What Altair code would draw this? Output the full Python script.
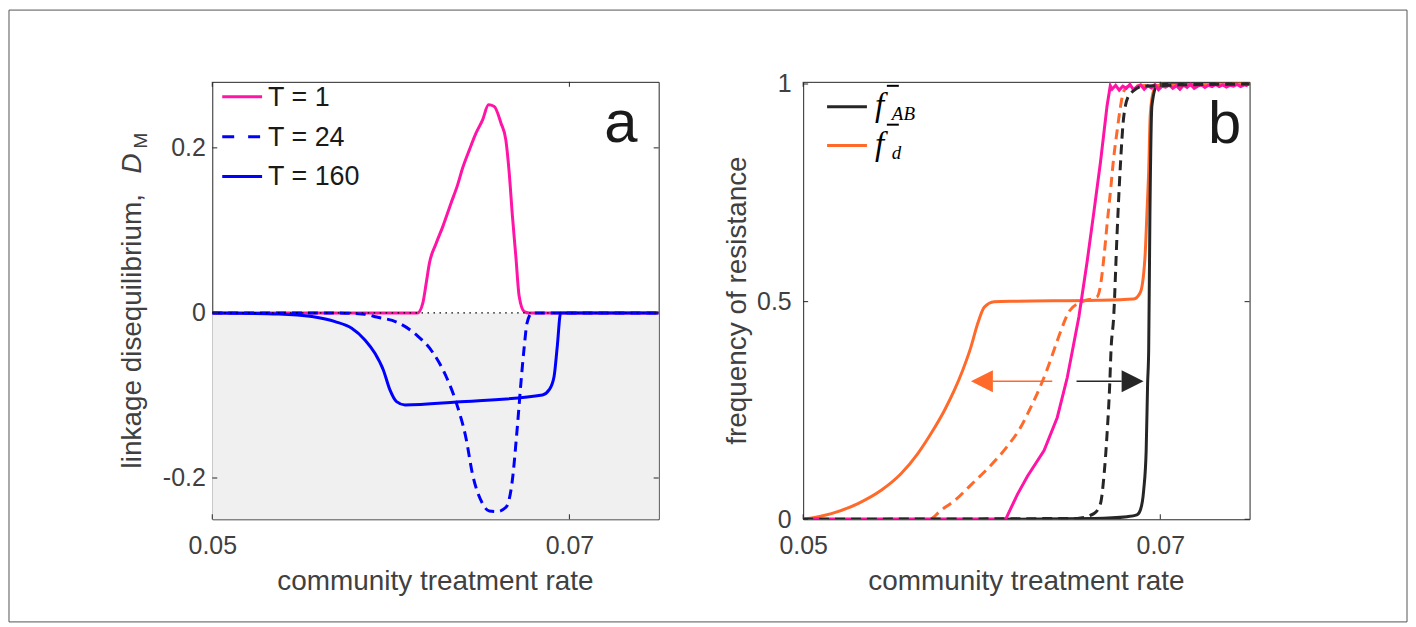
import altair as alt
import pandas as pd

# ------------------------------------------------------------------ data
x_domain = [0.05, 0.075]
x_ticks = [0.05, 0.07]
a_y_domain = [-0.25, 0.28]
a_y_ticks = [-0.2, 0, 0.2]
b_y_domain = [0, 1.005]
b_y_ticks = [0, 0.5, 1]

# panel a : linkage disequilibrium
a_t1_x = [0.05, 0.0615, 0.06179, 0.06198, 0.06216, 0.06254, 0.06291, 0.06337, 0.06374,
          0.06402, 0.0644, 0.06477, 0.06514, 0.06547, 0.06579, 0.06617, 0.06644, 0.06663,
          0.06681, 0.067, 0.06719, 0.06747, 0.06774, 0.075]
a_t1_y = [0, 0, 0.0118, 0.036, 0.0602, 0.0844, 0.1046, 0.133, 0.1552, 0.1755, 0.1976,
          0.2178, 0.2339, 0.2521, 0.2501, 0.2299, 0.2097, 0.1697, 0.1172, 0.0687, 0.0198,
          0.0016, 0, 0]
a_t24_x = [0.05, 0.05658, 0.05854, 0.05921, 0.06032, 0.06144, 0.06233, 0.06311, 0.06367,
           0.06423, 0.06456, 0.06512, 0.06551, 0.06596, 0.06646, 0.0668, 0.06707, 0.0673,
           0.06747, 0.06763, 0.06791, 0.075]
a_t24_y = [0, 0, -0.0015, -0.005, -0.011, -0.0267, -0.0473, -0.0776, -0.1091, -0.1539,
           -0.1939, -0.2303, -0.24, -0.2406, -0.2352, -0.2036, -0.1418, -0.0812, -0.0412,
           -0.0121, 0, 0]
a_t160_x = [0.05, 0.05372, 0.05558, 0.05688, 0.05781, 0.05855, 0.05911, 0.05958, 0.05995,
            0.06032, 0.06079, 0.06367, 0.06849, 0.06886, 0.06914, 0.06932, 0.06951, 0.075]
a_t160_y = [0, -0.0012, -0.0044, -0.0105, -0.0186, -0.0327, -0.0489, -0.0691, -0.0933,
            -0.1075, -0.1115, -0.1079, -0.0994, -0.0933, -0.0772, -0.0408, 0, 0]
a_shade_x = [0.05, 0.075]
a_shade_y = [-0.25, 0]

# panel b : frequency of resistance
b_d160_x = [0.05, 0.05158, 0.05307, 0.05437, 0.05549, 0.05642, 0.05716, 0.05791, 0.05846,
            0.05893, 0.05939, 0.05977, 0.06014, 0.0607, 0.062, 0.06646, 0.06851, 0.06888,
            0.06914, 0.06925, 0.06935, 0.06944, 0.06963, 0.0698, 0.075]
b_d160_y = [0, 0.013, 0.036, 0.0665, 0.105, 0.151, 0.197, 0.25, 0.296, 0.342, 0.395, 0.449,
            0.487, 0.5, 0.501, 0.503, 0.506, 0.521, 0.6, 0.7, 0.8, 0.93, 0.985, 0.995, 1.0]
b_ab160_x = [0.05, 0.061, 0.06629, 0.06814, 0.06869, 0.06888, 0.06907, 0.06921, 0.06929,
             0.06935, 0.06942, 0.06953, 0.06981, 0.07037, 0.075]
b_ab160_y = [0, 0, 0.002, 0.006, 0.01, 0.0206, 0.0665, 0.1583, 0.3119, 0.3876, 0.7, 0.95,
             0.995, 1.0, 1.0]
b_d24_x = [0.05, 0.05707, 0.0577, 0.05848, 0.05937, 0.06049, 0.06144, 0.06216, 0.06272,
           0.06328, 0.06367, 0.06406, 0.06445, 0.0649, 0.06562, 0.06646, 0.06665, 0.06684,
           0.06702, 0.06721, 0.06739, 0.06758, 0.06776, 0.06795, 0.06823, 0.075]
b_d24_y = [0, 0, 0.02, 0.043, 0.078, 0.123, 0.168, 0.21, 0.255, 0.305, 0.345, 0.39, 0.435,
           0.478, 0.5, 0.511, 0.537, 0.6009, 0.6774, 0.7538, 0.8303, 0.8915, 0.945, 0.9832,
           0.995, 1.0]
b_ab24_x = [0.05, 0.06535, 0.06628, 0.06665, 0.06684, 0.06702, 0.06717, 0.06724, 0.06739,
            0.06758, 0.06776, 0.06795, 0.06823, 0.06851, 0.069, 0.075]
b_ab24_y = [0, 0.002, 0.013, 0.0359, 0.0971, 0.1965, 0.3112, 0.3876, 0.4649, 0.656, 0.809,
            0.9236, 0.9732, 0.9846, 0.995, 1.0]
b_t1_x = [0.05, 0.06134, 0.062, 0.06256, 0.06349, 0.06423, 0.06479, 0.06507, 0.06544,
          0.0659, 0.06628, 0.06665, 0.06702, 0.0672,
          0.0673, 0.0675, 0.0677, 0.0679, 0.0681, 0.0683, 0.0685, 0.0687, 0.0689, 0.0691,
          0.0693, 0.0695, 0.0697, 0.0699, 0.0701, 0.0703, 0.0705, 0.0707, 0.0709, 0.0711,
          0.0713, 0.0715, 0.0717, 0.0719, 0.0721, 0.0723, 0.0725, 0.0727, 0.0729, 0.0731,
          0.0733, 0.0735, 0.0737, 0.0739, 0.0741, 0.0743, 0.0745, 0.0747, 0.0749]
b_t1_y = [0, 0, 0.0573, 0.099, 0.1576, 0.2339, 0.3257, 0.3853, 0.4649, 0.5911, 0.7057,
          0.8204, 0.9502, 0.996,
          0.988, 0.997, 0.986, 0.995, 0.99, 0.999, 0.987, 0.994, 0.998, 0.988, 0.996,
          0.991, 0.999, 0.987, 0.995, 0.993, 0.998, 0.99, 0.996, 0.988, 0.997, 0.992,
          0.999, 0.99, 0.995, 0.998, 0.992, 0.997, 0.994, 0.999, 0.994, 0.998, 0.993,
          0.997, 0.995, 0.999, 0.994, 0.998, 0.996]

# arrows in panel b (data coordinates)
arrow_y = 0.317
arrow_d_x = [0.06395, 0.0606]
arrow_d_head = 0.06001
arrow_ab_x = [0.06531, 0.06784]
arrow_ab_head = 0.06845

legend_a = ["T = 1", "T = 24", "T = 160"]

# ------------------------------------------------------------------ style
PINK = "#ff14a5"
BLUE = "#0000ff"
ORANGE = "#ff6a2b"
BLACK = "#262626"
TXT = "#404040"
FONT = "Liberation Sans"
SERIF = "Liberation Serif"
W, H = 448, 439
TITLE_FS = 28
one = pd.DataFrame({"k": [0]})


def xenc(axis=True):
    return alt.X("x:Q", title=None,
                 scale=alt.Scale(domain=x_domain, nice=False, zero=False),
                 axis=alt.Axis(values=x_ticks, format="~g", labelPadding=14,
                               labelFlush=False) if axis else None)


def yenc(domain, ticks, pad=7):
    return alt.Y("y:Q", title=None,
                 scale=alt.Scale(domain=domain, nice=False, zero=False),
                 axis=alt.Axis(values=ticks, format="~g", labelPadding=pad, labelFlush=False,
                               labelExpr="replace(datum.label, '\u2212', '-')"))


def line(xs, ys, color, domain, ticks, pad, dash=None, width=3, interp="monotone"):
    kw = dict(color=color, strokeWidth=width, interpolate=interp, clip=True)
    if dash:
        kw["strokeDash"] = dash
    return alt.Chart(pd.DataFrame({"x": xs, "y": ys})).mark_line(**kw).encode(
        x=xenc(), y=yenc(domain, ticks, pad))


def txt(text, x, y, size, **kw):
    base = dict(text=text, fontSize=size, font=FONT, color=TXT)
    base.update(kw)
    return alt.Chart(one).mark_text(**base).encode(x=alt.value(x), y=alt.value(y))


def prule(x, x2, y, y2, color, width, dash=None):
    kw = dict(color=color, strokeWidth=width)
    if dash:
        kw["strokeDash"] = dash
    return alt.Chart(one).mark_rule(**kw).encode(
        x=alt.value(x), x2=alt.value(x2), y=alt.value(y), y2=alt.value(y2))


def inner_ticks(domain, ticks, pad):
    xt = pd.DataFrame({"x": x_ticks})
    yt = pd.DataFrame({"y": ticks})
    layers = []
    for y0, y1 in [(H, H - 5), (0, 5)]:
        layers.append(alt.Chart(xt).mark_rule(color=BLACK, strokeWidth=1).encode(
            x=xenc(), y=alt.value(y0), y2=alt.value(y1)))
    for x0, x1 in [(0, 5), (W, W - 5)]:
        layers.append(alt.Chart(yt).mark_rule(color=BLACK, strokeWidth=1).encode(
            y=yenc(domain, ticks, pad), x=alt.value(x0), x2=alt.value(x1)))
    return layers


# ------------------------------------------------------------------ panel a
ad, at, ap = a_y_domain, a_y_ticks, 7
shade = alt.Chart(pd.DataFrame({"x": [a_shade_x[0]], "x2": [a_shade_x[1]],
                                "y": [a_shade_y[0]], "y2": [a_shade_y[1]]})).mark_rect(
    color="#f0f0f0").encode(x=xenc(), x2="x2:Q", y=yenc(ad, at, ap), y2="y2:Q")
zero_line = alt.Chart(pd.DataFrame({"x": a_shade_x, "y": [0, 0]})).mark_line(
    color="black", strokeWidth=1.3, strokeDash=[1.5, 4.5]).encode(
    x=xenc(), y=yenc(ad, at, ap))

frame = alt.Chart(one).mark_rect(fill="transparent", stroke="#555555", strokeWidth=1).encode(
    x=alt.value(-204), x2=alt.value(1199), y=alt.value(-72), y2=alt.value(542))

panel_a = alt.layer(
    frame,
    shade,
    line(a_t1_x, a_t1_y, PINK, ad, at, ap),
    line(a_t24_x, a_t24_y, BLUE, ad, at, ap, dash=[10, 6]),
    line(a_t160_x, a_t160_y, BLUE, ad, at, ap),
    zero_line,
    *inner_ticks(ad, at, ap),
    # legend
    prule(10, 50, 15, 15, PINK, 3),
    prule(10, 50, 55, 55, BLUE, 3, dash=[12, 14]),
    prule(10, 50, 95, 95, BLUE, 3),
    txt(legend_a[0], 56, 16, 27, align="left", baseline="middle", color="#1a1a1a"),
    txt(legend_a[1], 56, 56, 27, align="left", baseline="middle", color="#1a1a1a"),
    txt(legend_a[2], 56, 96, 27, align="left", baseline="middle", color="#1a1a1a"),
    # panel letter
    txt("a", 410, 42, 60, align="center", baseline="middle", color="#1a1a1a"),
    # axis titles
    txt("community treatment rate", W / 2, 502, TITLE_FS, align="center", baseline="middle"),
    txt("linkage disequilibrium,", -80, 388, TITLE_FS, align="left", baseline="middle", angle=270),
    txt("D", -80, 92, TITLE_FS, align="left", baseline="middle", angle=270, fontStyle="italic"),
    txt("M", -72, 67, 19, align="left", baseline="middle", angle=270),
).properties(width=W, height=H)

# ------------------------------------------------------------------ panel b
bd, bt, bp = b_y_domain, b_y_ticks, 12
head_path = "M -1 0 L 1 -1 L 1 1 Z"
head_path_r = "M 1 0 L -1 -1 L -1 1 Z"

arrow_layers = [
    alt.Chart(pd.DataFrame({"x": arrow_d_x, "y": [arrow_y] * 2})).mark_line(
        color=ORANGE, strokeWidth=1.5).encode(x=xenc(), y=yenc(bd, bt, bp)),
    alt.Chart(pd.DataFrame({"x": [arrow_d_head], "y": [arrow_y]})).mark_point(
        shape=head_path, filled=True, size=484, color=ORANGE, opacity=1).encode(
        x=xenc(), y=yenc(bd, bt, bp)),
    alt.Chart(pd.DataFrame({"x": arrow_ab_x, "y": [arrow_y] * 2})).mark_line(
        color=BLACK, strokeWidth=1.5).encode(x=xenc(), y=yenc(bd, bt, bp)),
    alt.Chart(pd.DataFrame({"x": [arrow_ab_head], "y": [arrow_y]})).mark_point(
        shape=head_path_r, filled=True, size=484, color=BLACK, opacity=1).encode(
        x=xenc(), y=yenc(bd, bt, bp)),
]

panel_b = alt.layer(
    line(b_d160_x, b_d160_y, ORANGE, bd, bt, bp),
    line(b_ab160_x, b_ab160_y, BLACK, bd, bt, bp),
    line(b_d24_x, b_d24_y, ORANGE, bd, bt, bp, dash=[10, 6]),
    line(b_t1_x, b_t1_y, PINK, bd, bt, bp, interp="linear"),
    line(b_ab24_x, b_ab24_y, BLACK, bd, bt, bp, dash=[10, 6]),
    *arrow_layers,
    *inner_ticks(bd, bt, bp),
    # legend
    prule(24, 64, 25, 25, BLACK, 3),
    prule(24, 64, 64, 64, ORANGE, 3),
    txt("f", 72, 34, 33, align="left", baseline="alphabetic", font=SERIF,
        fontStyle="italic", color="black"),
    prule(84, 96, 4, 4, "black", 2),
    txt("AB", 89, 38, 19, align="left", baseline="alphabetic", font=SERIF,
        fontStyle="italic", color="black"),
    txt("f", 72, 73, 33, align="left", baseline="alphabetic", font=SERIF,
        fontStyle="italic", color="black"),
    prule(84, 96, 43, 43, "black", 2),
    txt("d", 89, 77, 19, align="left", baseline="alphabetic", font=SERIF,
        fontStyle="italic", color="black"),
    # panel letter
    txt("b", 423, 43, 60, align="center", baseline="middle", color="#1a1a1a"),
    # axis titles
    txt("community treatment rate", W / 2, 502, TITLE_FS, align="center", baseline="middle"),
    txt("frequency of resistance", -65, H / 2, TITLE_FS, align="center", baseline="middle",
        angle=270),
).properties(width=W, height=H)

chart = alt.hconcat(panel_a, panel_b, spacing=145, bounds="flush").properties(
    padding=0
).configure_view(stroke=BLACK, strokeWidth=1).configure_axis(
    labelFont=FONT, labelFontSize=25, labelColor=TXT, domain=False, ticks=False,
    tickSize=0, grid=False
)

chart.save("out.html", embed_options={"renderer": "svg", "actions": False})
